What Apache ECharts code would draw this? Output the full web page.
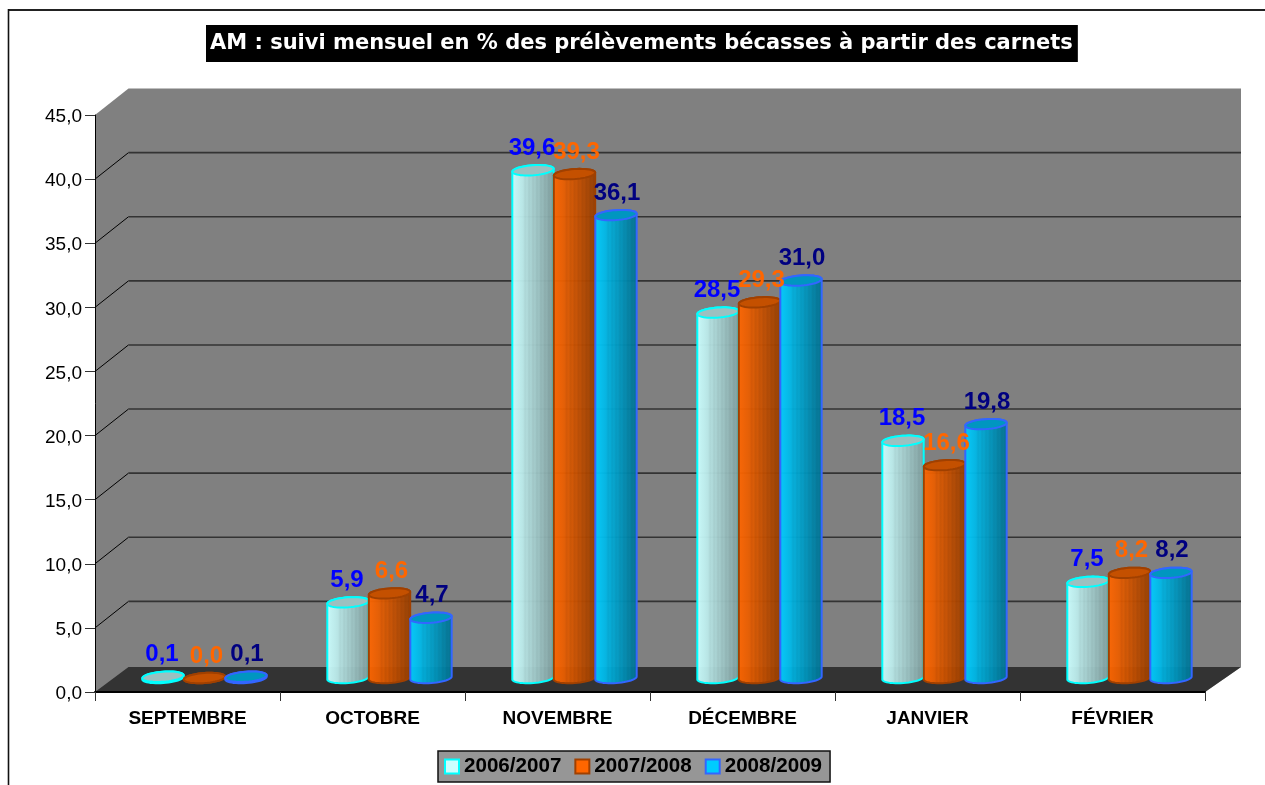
<!DOCTYPE html>
<html>
<head>
<meta charset="utf-8">
<script src="https://cdn.jsdelivr.net/npm/echarts@6/dist/echarts.min.js"></script>
<style>html,body{margin:0;padding:0;background:#fff;overflow:hidden}#c{width:1265px;height:785px}</style>
</head>
<body>
<div id="c"></div>
<script>
var categories = ['SEPTEMBRE','OCTOBRE','NOVEMBRE','DÉCEMBRE','JANVIER','FÉVRIER'];
var seriesNames = ['2006/2007','2007/2008','2008/2009'];
var values2006 = [0.1, 5.9, 39.6, 28.5, 18.5, 7.5];
var values2007 = [0.0, 6.6, 39.3, 29.3, 16.6, 8.2];
var values2008 = [0.1, 4.7, 36.1, 31.0, 19.8, 8.2];
var yTicks = [0,5,10,15,20,25,30,35,40,45];
var titleText = 'AM : suivi mensuel en % des prélèvements bécasses à partir des carnets';

var allValues = [values2006, values2007, values2008];
var looks = [
  {label:'#0000ff', edge:'#00ffff', top:'#9cc0c0', legend:'#ccffff', light:[204,255,255], dark:[128,160,160], nudge:-1},
  {label:'#ff6600', edge:'#a04000', top:'#c45000', legend:'#ff6600', light:[255,102,0], dark:[150,62,0], nudge:2},
  {label:'#000080', edge:'#3366ff', top:'#0096c0', legend:'#00ccff', light:[0,204,255], dark:[0,112,144], nudge:1}
];
var DXL = 33.5, DXR = 36, DY = 26.5, FLOOR_DY = 25;
var MIDX = 17, MIDY = 14;

function rgba(c, a){ return 'rgba('+c[0]+','+c[1]+','+c[2]+','+a+')'; }
function mix(a,b,t){ return [0,1,2].map(function(i){ return Math.round(a[i]+(b[i]-a[i])*t); }); }
function bodyFill(look){
  var stops = [], n = 22;
  for (var i=0;i<=n;i++){
    var t = i/n;
    var c = mix(look.light, look.dark, Math.pow(t,1.15));
    if (i%2===1 && t>0.3) c = mix(c,[0,0,0],0.05);
    stops.push({offset:t, color:rgba(c,0.95)});
  }
  return new echarts.graphic.LinearGradient(0,0,1,0,stops);
}
function arc(cx,cy,rx,ry,tilt,from,to,n){
  var pts=[];
  for (var i=0;i<=n;i++){
    var t = from+(to-from)*i/n;
    var x = rx*Math.cos(t), y = ry*Math.sin(t);
    pts.push([cx+x*Math.cos(tilt)-y*Math.sin(tilt), cy+x*Math.sin(tilt)+y*Math.cos(tilt)]);
  }
  return pts;
}

function cylinderRender(sIdx){
  var look = looks[sIdx], fill = bodyFill(look);
  return function(params, api){
    var idx = api.value(0), v = api.value(1);
    var base = api.coord([idx, 0]), head = api.coord([idx, v]);
    var step = api.size([1,0])[0]*0.2243, rx = step/2, ry = 5, tilt = -0.075;
    var cx = base[0] + MIDX + (sIdx-1)*step;
    var yb = base[1] - MIDY, yt = head[1] - MIDY;
    var body = arc(cx,yb,rx,ry,tilt,Math.PI,0,24).concat(arc(cx,yt,rx,ry,tilt,0,-Math.PI,24));
    var top = arc(cx,yt,rx,ry,tilt,0,Math.PI*2,48);
    return {type:'group', children:[
      {type:'polygon', shape:{points:body}, style:{fill:fill, stroke:look.edge, lineWidth:2}},
      {type:'polygon', shape:{points:top}, style:{fill:look.top, stroke:look.edge, lineWidth:2}}
    ]};
  };
}
function labelRender(sIdx){
  var look = looks[sIdx];
  return function(params, api){
    var idx = api.value(0), v = api.value(1);
    var base = api.coord([idx, 0]), head = api.coord([idx, v]);
    var step = api.size([1,0])[0]*0.2243;
    return {type:'text', x:base[0]+MIDX+(sIdx-1)*step+look.nudge, y:head[1]-MIDY-22,
      style:{text:v.toFixed(1).replace('.',','), fill:look.label,
        font:'bold 24px "Liberation Sans"', textAlign:'center', textVerticalAlign:'middle'}};
  };
}

function wallRender(params, api){
  var kids = [];
  var bl = api.coord([0,0]), tl = api.coord([0,45]);
  var catW = api.size([1,0])[0];
  var x0 = bl[0]-catW/2, x1 = x0+catW*categories.length;
  var y0 = bl[1], yTop = tl[1];
  kids.push({type:'polygon', shape:{points:[[x0,yTop],[x0+DXL,yTop-DY],[x1+DXR,yTop-DY],[x1+DXR,y0-FLOOR_DY],[x1,y0],[x0,y0]]}, style:{fill:'#808080'}});
  kids.push({type:'polygon', shape:{points:[[x0,y0],[x0+DXL,y0-FLOOR_DY],[x1+DXR,y0-FLOOR_DY],[x1,y0]]}, style:{fill:'#333333'}});
  yTicks.forEach(function(t){
    if (t===0||t===45) return;
    var y = api.coord([0,t])[1];
    kids.push({type:'line', shape:{x1:x0,y1:y,x2:x0+DXL,y2:y-DY}, style:{stroke:'#000',lineWidth:1}});
    kids.push({type:'line', shape:{x1:x0+DXL,y1:y-DY,x2:x1+DXR,y2:y-DY}, style:{stroke:'#333',lineWidth:1.6}});
  });
  return {type:'group', children:kids};
}

var series = [{type:'custom', name:'_wall', silent:true, renderItem:wallRender, data:[[0,0]], encode:{x:0,y:1}, z:1, clip:false}];
allValues.forEach(function(vals, s){
  var d = vals.map(function(v,i){ return [i,v]; });
  series.push({type:'custom', name:seriesNames[s], renderItem:cylinderRender(s), clip:false, z:3+s,
    itemStyle:{color:looks[s].legend, borderColor:looks[s].edge, borderWidth:2},
    encode:{x:0,y:1}, data:d});
  series.push({type:'custom', name:'_labels'+s, silent:true, renderItem:labelRender(s), clip:false, z:10,
    encode:{x:0,y:1}, data:d});
});

var chart = echarts.init(document.getElementById('c'), null, {renderer:'canvas'});
chart.setOption({
  animation:false,
  backgroundColor:'#ffffff',
  title:{text:titleText, left:206, top:25, backgroundColor:'#000', padding:[7,5,7,4],
    textStyle:{color:'#fff', fontFamily:'DejaVu Sans', fontWeight:'bold', fontSize:21, lineHeight:23}},
  legend:{data:seriesNames, left:438, top:751, padding:[5,8,5,6], itemGap:13, itemWidth:14, itemHeight:14,
    icon:'rect', backgroundColor:'#969696', borderColor:'#111', borderWidth:1.5,
    itemStyle:{borderWidth:2}, selectedMode:false,
    textStyle:{color:'#000', fontFamily:'Liberation Sans', fontWeight:'bold', fontSize:20.6}},
  grid:{left:95, right:60, top:115, bottom:93, containLabel:false},
  xAxis:{type:'category', data:categories, z:8,
    axisLine:{lineStyle:{color:'#000',width:2}}, axisTick:{show:true,length:9,lineStyle:{color:'#333',width:1}},
    axisLabel:{color:'#000', fontFamily:'Liberation Sans', fontWeight:'bold', fontSize:19, margin:17}, splitLine:{show:false}},
  yAxis:{type:'value', min:0, max:45, interval:5, z:8,
    axisLine:{show:true,lineStyle:{color:'#000',width:1}}, axisTick:{show:true,length:10,lineStyle:{color:'#333',width:1}},
    axisLabel:{margin:13,
      formatter:function(v){ return '{a|'+v.toFixed(1).replace('.',',')+'}'; },
      rich:{a:{color:'#000', fontFamily:'Liberation Sans', fontSize:19, padding:[4,0,0,0]}}}, splitLine:{show:false}},
  graphic:[
    {type:'line', silent:true, z:0, shape:{x1:8,y1:10,x2:1265,y2:10}, style:{stroke:'#222', lineWidth:2}},
    {type:'line', silent:true, z:0, shape:{x1:8.5,y1:9,x2:8.5,y2:785}, style:{stroke:'#111', lineWidth:1.6}},
    {type:'text', silent:true, z:0, x:423, y:-2, style:{text:'p', fill:'#000', font:'bold 24px "Liberation Serif"', textAlign:'center', textVerticalAlign:'bottom'}}
  ],
  series:series
});
</script>
</body>
</html>
